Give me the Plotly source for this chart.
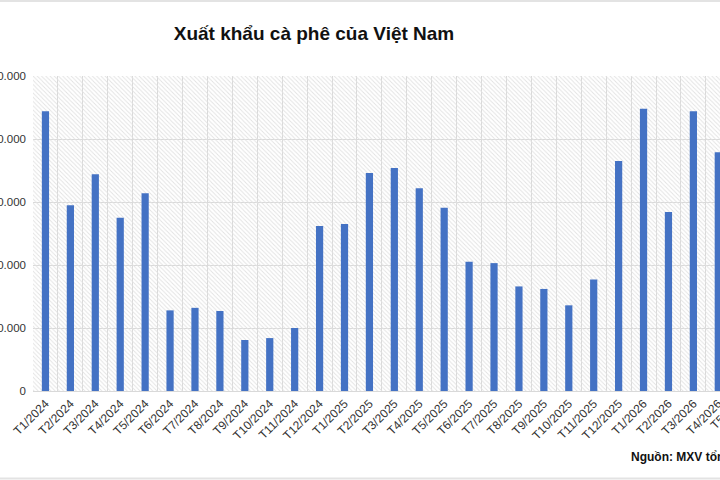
import plotly.graph_objects as go

categories = ["T1/2024", "T2/2024", "T3/2024", "T4/2024", "T5/2024", "T6/2024",
              "T7/2024", "T8/2024", "T9/2024", "T10/2024", "T11/2024", "T12/2024",
              "T1/2025", "T2/2025", "T3/2025", "T4/2025", "T5/2025", "T6/2025",
              "T7/2025", "T8/2025", "T9/2025", "T10/2025", "T11/2025", "T12/2025",
              "T1/2026", "T2/2026", "T3/2026", "T4/2026", "T5/2026"]
values = [222000, 147500, 172000, 137500, 157000, 64000,
          66000, 63500, 40500, 42000, 50000, 131000,
          132500, 173000, 177000, 161000, 145500, 102500,
          101500, 83000, 81000, 68000, 88500, 182500,
          224000, 142000, 222000, 189500, None]
y_ticks = [0, 50000, 100000, 150000, 200000, 250000]
title_text = "Xuất khẩu cà phê của Việt Nam"
source_text = "Nguồn: MXV tổng hợp"

FONT = "Liberation Sans, Arial, sans-serif"
W, H = 720, 480
ML, MR, MT, MB = 33, 0, 76, 89
PW, PH = W - ML - MR, H - MT - MB

fig = go.Figure()

# hatched plot background
fig.add_trace(go.Bar(
    x=[0.5], y=[y_ticks[-1]], width=[1], xaxis="x", yaxis="y",
    marker=dict(color="rgba(0,0,0,0)", line=dict(width=0),
                pattern=dict(shape="\\", fgcolor="#e2e2e2", bgcolor="rgba(0,0,0,0)",
                             size=3, solidity=0.3)),
    hoverinfo="skip", showlegend=False))

fig.add_trace(go.Bar(
    x=categories, y=values, xaxis="x2", yaxis="y", width=0.29,
    marker=dict(color="#4472C4", line=dict(width=0)), showlegend=False))

cat_w = 24.92
x_end = -0.5 + PW / cat_w

fig.update_layout(
    width=W, height=H, autosize=False, template="none",
    margin=dict(l=ML, r=MR, t=MT, b=MB, pad=0),
    paper_bgcolor="white", plot_bgcolor="white",
    separators=",.",
    font=dict(family=FONT, color="#404040"),
    barmode="overlay",
    xaxis=dict(range=[0, 1], visible=False, fixedrange=True, automargin=False),
    xaxis2=dict(type="category", categoryorder="array", categoryarray=categories,
                overlaying="x", anchor="y", side="bottom",
                range=[-0.5, x_end], tickson="boundaries", ticks="",
                showgrid=True, gridcolor="#d9d9d9", gridwidth=1,
                showline=True, linecolor="#d9d9d9", linewidth=1,
                tickangle=-45, tickfont=dict(size=12, color="#333333", family=FONT),
                automargin=False),
    yaxis=dict(range=[0, y_ticks[-1]], tickvals=y_ticks, tickformat=",d",
               showgrid=True, gridcolor="#d9d9d9", gridwidth=1, zeroline=False,
               showline=False, ticks="", ticklabelstandoff=6,
               tickfont=dict(size=11.5, color="#333333", family=FONT),
               automargin=False),
    title=dict(text=title_text, x=314 / W, xanchor="center", xref="container",
               y=1 - 33 / H, yref="container", yanchor="middle",
               font=dict(size=19, color="#111111", family=FONT, weight="bold")),
)

# partially visible label of the next (cropped) category
fig.add_annotation(text=categories[-1], xref="paper", yref="paper",
                   x=(727.5 - ML) / PW, y=(MT + PH - 411.5) / PH,
                   xanchor="center", yanchor="middle", textangle=-45, showarrow=False,
                   font=dict(size=12, color="#333333", family=FONT))

fig.add_annotation(text="<b>" + source_text + "</b>", xref="paper", yref="paper",
                   x=(629 - ML) / PW, y=(MT + PH - 466) / PH, xanchor="left", yanchor="bottom",
                   showarrow=False, font=dict(size=12, color="#111111", family=FONT))

# thin grey frame lines at top and bottom of the image
for ypx in (1, 478.5):
    yp = (MT + PH - ypx) / PH
    fig.add_shape(type="line", xref="paper", yref="paper", x0=-0.1, x1=1.1, y0=yp, y1=yp,
                  line=dict(color="#e3e3e3", width=2), layer="above")

fig.write_html("out.html")
